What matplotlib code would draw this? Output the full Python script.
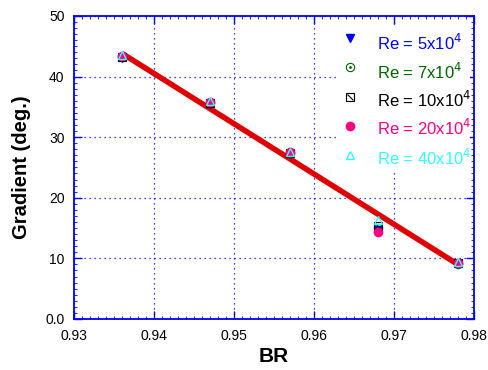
import numpy as np
import matplotlib
matplotlib.use("Agg")
import matplotlib.pyplot as plt
from matplotlib.ticker import MultipleLocator
from matplotlib.patches import Rectangle

plt.rcParams['font.family'] = ['Liberation Sans', 'DejaVu Sans']

# blockage ratio and measured gradient for each Reynolds number
br = [0.936, 0.947, 0.957, 0.968, 0.978]
grad_re5 = [43.0, 35.5, 27.2, 14.6, 9.0]
grad_re7 = [43.2, 35.6, 27.3, 15.0, 9.1]
grad_re10 = [43.2, 35.7, 27.4, 15.4, 9.2]
grad_re20 = [43.4, 35.8, 27.5, 14.4, 9.3]
grad_re40 = [43.6, 35.9, 27.6, 16.3, 9.4]

# linear trend line
fit_x = [0.936, 0.978]
fit_y = [43.8, 9.0]

labels = ['Re = 5x10$^4$', 'Re = 7x10$^4$', 'Re = 10x10$^4$',
          'Re = 20x10$^4$', 'Re = 40x10$^4$']
colors = ['#0000ff', '#006400', '#000000', '#ff0080', '#33ffff']

fig = plt.figure(figsize=(4.88, 3.70), dpi=100)
ax = fig.add_axes([0.152, 0.138, 0.819, 0.819])

ax.plot(fit_x, fit_y, color='#e00000', lw=4, solid_capstyle='butt', zorder=2)

ms = 6
ax.plot(br, grad_re5, 'v', color=colors[0], ms=ms, zorder=3)
ax.plot(br, grad_re7, 'o', mfc='none', mec=colors[1], mew=0.8, ms=ms, zorder=3)
ax.plot(br, grad_re7, '.', color=colors[1], ms=2, zorder=3)
ax.plot(br, grad_re10, 's', mfc='none', mec=colors[2], mew=0.8, ms=ms, zorder=3)
ax.plot(br, grad_re10, marker=(2, 0, 45), ls='none', mec=colors[2], mew=0.8, ms=ms, zorder=3)
ax.plot(br, grad_re20, 'o', color=colors[3], ms=ms, zorder=3)
ax.plot(br, grad_re40, '^', mfc='none', mec=colors[4], mew=1.0, ms=ms, zorder=4)

# legend drawn by hand: white box, marker column plus coloured text
ax.add_patch(Rectangle((0.655, 0.49), 0.335, 0.48, transform=ax.transAxes,
                       facecolor='white', edgecolor='none', zorder=1))
mark_y = [0.927, 0.832, 0.733, 0.637, 0.541]
text_y = [0.911, 0.815, 0.723, 0.630, 0.531]
mark_x = 0.69
kw = dict(transform=ax.transAxes, ms=6, zorder=3)
ax.plot(mark_x, mark_y[0], 'v', color=colors[0], **kw)
ax.plot(mark_x, mark_y[1], 'o', mfc='none', mec=colors[1], mew=0.8, **kw)
ax.plot(mark_x, mark_y[1], '.', color=colors[1], transform=ax.transAxes, ms=2, zorder=3)
ax.plot(mark_x, mark_y[2], 's', mfc='none', mec=colors[2], mew=0.8, **kw)
ax.plot(mark_x, mark_y[2], marker=(2, 0, 45), mec=colors[2], mew=0.8, **kw)
ax.plot(mark_x, mark_y[3], 'o', color=colors[3], **kw)
ax.plot(mark_x, mark_y[4], '^', mfc='none', mec=colors[4], mew=1.0, **kw)
for y, lab, c in zip(text_y, labels, colors):
    ax.text(0.758, y, lab, color=c, fontsize=12, transform=ax.transAxes,
            va='center', ha='left', zorder=3)

ax.set_xlim(0.93, 0.98)
ax.set_ylim(0, 50)
ax.xaxis.set_major_locator(MultipleLocator(0.01))
ax.yaxis.set_major_locator(MultipleLocator(10))
ax.xaxis.set_minor_locator(MultipleLocator(0.001))
ax.yaxis.set_minor_locator(MultipleLocator(1))
ax.set_xticks([0.93, 0.94, 0.95, 0.96, 0.97, 0.98])
ax.set_xticklabels(['0.93', '0.94', '0.95', '0.96', '0.97', '0.98'])
ax.set_yticks([0, 10, 20, 30, 40, 50])
ax.set_yticklabels(['0.0', '10', '20', '30', '40', '50'])

ax.grid(True, which='major', color='#0000ff', ls=(0, (1, 3)), lw=0.9, zorder=0)
ax.set_axisbelow(True)
for s in ax.spines.values():
    s.set_color('#0000ff')
    s.set_linewidth(1.3)
    s.set_zorder(5)
ax.tick_params(which='both', direction='in', colors='#0000ff', top=True, right=True,
               labelcolor='black', labelsize=10)
ax.tick_params(which='major', length=6, width=1)
ax.tick_params(which='minor', length=2, width=0.6)
ax.tick_params(axis='x', which='major', pad=7)
ax.tick_params(axis='y', which='major', pad=7)

ax.set_xlabel('BR', fontsize=15, fontweight='bold', labelpad=3)
ax.set_ylabel('Gradient (deg.)', fontsize=14.5, fontweight='bold', labelpad=10)

fig.savefig('out.png', dpi=100)
